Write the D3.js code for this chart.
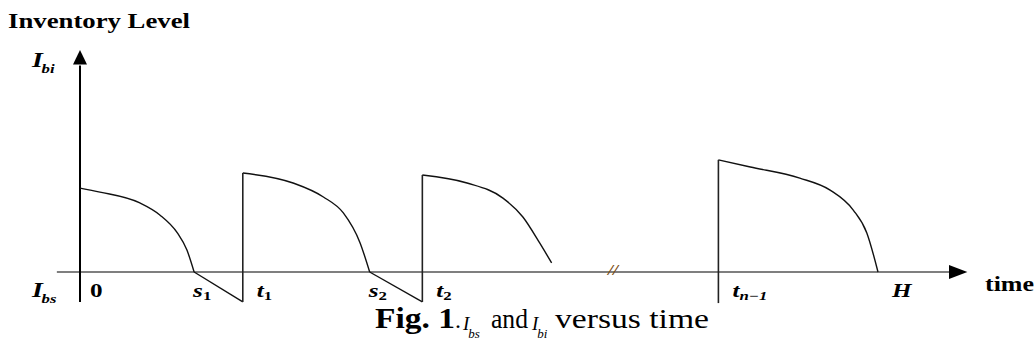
<!DOCTYPE html>
<html lang="en">
<head>
    <meta charset="UTF-8">
    <title>Inventory Level</title>
    <style>
        body { margin: 0; background: #fff; }
        svg text { font-family: "Liberation Serif", "Times New Roman", serif; fill: #000; }
        .curve { fill: none; stroke: #111; stroke-width: 1.4px; }
        .jump { fill: none; stroke: #222; stroke-width: 1.6px; }
        .axis-line { stroke: #555; stroke-width: 1.6px; }
    </style>
</head>
<body>
<svg id="chart" width="1036" height="347"></svg>
<script src="https://cdn.jsdelivr.net/npm/d3@7/dist/d3.min.js"></script>
<script>
    // time in % of horizon H, inventory in % of the axis height
    const cycle1 = [[0, 37.8], [2.5, 36.0], [7.5, 31.1], [10.0, 25.7], [12.2, 17.6], [13.4, 9.9], [14.3, 0]];
    const cycle2 = [[20.4, 44.6], [26.7, 40.1], [30.5, 33.8], [33.0, 26.6], [35.1, 13.1], [36.3, 0]];
    const cycle3 = [[42.9, 43.7], [48.5, 40.1], [53.0, 33.3], [55.5, 24.8], [57.6, 13.1], [59.1, 4.1]];
    const cycleN = [[80, 50.5], [84.0, 47.3], [90.2, 42.3], [94.0, 36.9], [96.9, 27.9], [98.6, 17.6], [100, 0]];
    const backlogs = [[[14.3, 0], [20.4, -13.5]], [[36.3, 0], [42.9, -13.5]]];
    const orders = [[[20.4, -13.5], [20.4, 44.6]], [[42.9, -13.5], [42.9, 43.7]], [[80, -14], [80, 50.5]]];
    const tickLabels = [
        { main: "0", sub: "", t: 0, kind: "o" },
        { main: "s", sub: "1", t: 14.3, kind: "s" },
        { main: "t", sub: "1", t: 20.4, kind: "t" },
        { main: "s", sub: "2", t: 36.3, kind: "s" },
        { main: "t", sub: "2", t: 42.9, kind: "t" },
        { main: "t", sub: "n\u22121", t: 80, kind: "t" },
        { main: "H", sub: "", t: 100, kind: "t" }
    ];
    const breakAt = 66.8;

    const svg = d3.select("#chart");
    const x = d3.scaleLinear().domain([0, 100]).range([80, 878]);
    const y = d3.scaleLinear().domain([0, 100]).range([272, 50]);
    const line = d3.line().x(d => x(d[0])).y(d => y(d[1]));
    const smooth = d3.line().x(d => x(d[0])).y(d => y(d[1])).curve(d3.curveMonotoneX);

    // x axis with arrow
    svg.append("line").attr("class", "axis-line")
        .attr("x1", x(-2.9)).attr("x2", x(109)).attr("y1", y(0)).attr("y2", y(0));
    svg.append("path")
        .attr("d", `M${x(111.2)},${y(0)} L${x(108.9)},${y(0) - 7} L${x(108.9)},${y(0) + 7} Z`)
        .attr("fill", "#000");

    // y axis with arrow
    svg.append("line")
        .attr("x1", x(0)).attr("x2", x(0)).attr("y1", y(-13.5)).attr("y2", y(93))
        .attr("stroke", "#000").attr("stroke-width", 2);
    svg.append("path")
        .attr("d", `M${x(0)},${y(100)} L${x(0) - 7},${y(93.5)} L${x(0) + 7},${y(93.5)} Z`)
        .attr("fill", "#000");

    // inventory curves
    [cycle1, cycle2, cycle3, cycleN].forEach(c => {
        svg.append("path").attr("class", "curve").attr("d", smooth(c));
    });
    backlogs.forEach(b => {
        svg.append("path").attr("class", "curve").attr("d", line(b));
    });
    orders.forEach((o, i) => {
        svg.append("path").attr("class", "jump")
            .attr("stroke", i === 0 ? "#666" : "#111")
            .attr("d", line(o));
    });

    // axis break
    svg.append("text")
        .attr("transform", `translate(${x(breakAt)},${y(0) + 3}) scale(1.3,1)`)
        .attr("text-anchor", "middle")
        .style("font-size", "14px").style("font-weight", "bold").style("font-style", "italic")
        .style("fill", "#7a4a10")
        .text("//");

    // tick labels under the time axis
    const offsets = { o: 10, s: -1, t: 14 };
    tickLabels.forEach(d => {
        const g = svg.append("text")
            .attr("transform", `translate(${x(d.t) + offsets[d.kind]},${y(0) + 25}) scale(1.4,1)`)
            .style("font-weight", "bold").style("font-style", d.kind === "o" ? "normal" : "italic")
            .style("font-size", "18px");
        g.append("tspan").text(d.main);
        if (d.sub) {
            g.append("tspan").attr("dy", 3).style("font-size", "12px")
                .style("font-style", d.sub === "n\u22121" ? "italic" : "normal")
                .text(d.sub);
        }
    });

    // axis names
    function symbol(xp, yp, sub) {
        const t = svg.append("text")
            .attr("transform", `translate(${xp},${yp}) scale(1.4,1)`)
            .style("font-weight", "bold").style("font-style", "italic").style("font-size", "20px");
        t.append("tspan").text("I");
        t.append("tspan").attr("dx", -1).attr("dy", 6).style("font-size", "12px").text(sub);
    }
    symbol(32, 67, "bi");
    symbol(32, 297, "bs");

    svg.append("text").attr("x", 8).attr("y", 28)
        .attr("textLength", 182).attr("lengthAdjust", "spacingAndGlyphs")
        .style("font-weight", "bold").style("font-size", "21px")
        .text("Inventory Level");

    svg.append("text").attr("x", 985).attr("y", 291)
        .attr("textLength", 49).attr("lengthAdjust", "spacingAndGlyphs")
        .style("font-weight", "bold").style("font-size", "21px")
        .text("time");

    // caption
    const cap = svg.append("g");
    cap.append("text").attr("x", 375).attr("y", 328)
        .attr("textLength", 80).attr("lengthAdjust", "spacingAndGlyphs")
        .style("font-weight", "bold").style("font-size", "30px").text("Fig. 1");
    cap.append("text").attr("x", 455).attr("y", 328).style("font-size", "24px").text(".");
    function capSym(xp, sub) {
        const t = cap.append("text").attr("x", xp).attr("y", 330)
            .style("font-style", "italic").style("font-size", "19px");
        t.append("tspan").text("I");
        t.append("tspan").attr("dx", -1).attr("dy", 8).style("font-size", "13px").text(sub);
    }
    capSym(463, "bs");
    cap.append("text").attr("x", 491).attr("y", 328)
        .attr("textLength", 37).attr("lengthAdjust", "spacingAndGlyphs")
        .style("font-size", "27px").text("and");
    capSym(532, "bi");
    cap.append("text").attr("x", 555).attr("y", 328)
        .attr("textLength", 154).attr("lengthAdjust", "spacingAndGlyphs")
        .style("font-size", "28px").text("versus time");
</script>
</body>
</html>
